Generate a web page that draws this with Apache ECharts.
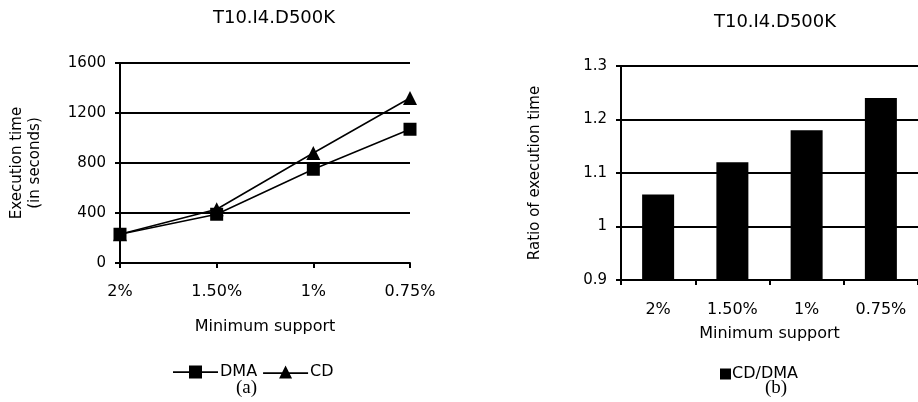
<!DOCTYPE html>
<html>
<head>
<meta charset="utf-8">
<script src="https://cdn.jsdelivr.net/npm/echarts@6/dist/echarts.min.js"></script>
<style>html,body{margin:0;padding:0;background:#fff;}#c{width:918px;height:402px;}</style>
</head>
<body>
<div id="c"></div>
<script>
// ---- data ----
var categories = ['2%', '1.50%', '1%', '0.75%'];
var dmaTime = [230, 390, 750, 1070];
var cdTime = [230, 430, 880, 1320];
var ratioCdDma = [1.06, 1.12, 1.18, 1.24];
var titleA = 'T10.I4.D500K';
var titleB = 'T10.I4.D500K';

var FONT = 'DejaVu Sans';
var chart = echarts.init(document.getElementById('c'), null, {renderer: 'canvas'});
var axisLine = {show: true, lineStyle: {color: '#000', width: 2}};
var axisTick = {show: true, length: 5, lineStyle: {color: '#000', width: 2}};
var split = {show: true, lineStyle: {color: '#000', width: 2}};
var iconSquare = 'path://M0,5.7 L45,5.7 L45,7.5 L0,7.5 Z M16,0 L29,0 L29,13 L16,13 Z';
var iconTri = 'path://M0,6.8 L45,6.8 L45,8.6 L0,8.6 Z M16,13 L22.5,0 L29,13 Z';

chart.setOption({
  backgroundColor: '#fff',
  animation: false,
  textStyle: {fontFamily: FONT, color: '#000'},
  title: [
    {text: titleA, left: 274, top: 9, padding: 0, textAlign: 'center',
     textStyle: {fontFamily: FONT, fontSize: 18, fontWeight: 'normal', color: '#000'}},
    {text: titleB, left: 775, top: 13, padding: 0, textAlign: 'center',
     textStyle: {fontFamily: FONT, fontSize: 18, fontWeight: 'normal', color: '#000'}}
  ],
  legend: [
    {data: [{name: 'DMA', icon: iconSquare}, {name: 'CD', icon: iconTri}],
     left: 173, top: 364, padding: 0, itemWidth: 45, itemHeight: 13, itemGap: 6,
     textStyle: {fontFamily: FONT, fontSize: 16, color: '#000', padding: [0, 0, 0, -3]}},
    {data: ['CD/DMA'], left: 720, top: 366, padding: 0, itemWidth: 11, itemHeight: 11, itemGap: 4, icon: 'rect',
     textStyle: {fontFamily: FONT, fontSize: 16, color: '#000', padding: [0, 0, 0, -4]}}
  ],
  grid: [
    {left: 120, top: 63, width: 290, height: 200},
    {left: 621, top: 66, width: 303, height: 214}
  ],
  xAxis: [
    {gridIndex: 0, type: 'category', data: categories, boundaryGap: false,
     axisLine: axisLine, axisTick: axisTick, splitLine: {show: false},
     axisLabel: {fontFamily: FONT, fontSize: 16, color: '#000', margin: 21},
     name: 'Minimum support', nameLocation: 'middle', nameGap: 56,
     nameTextStyle: {fontFamily: FONT, fontSize: 16, color: '#000'}},
    {gridIndex: 1, type: 'category', data: categories, boundaryGap: true,
     axisLine: axisLine, axisTick: axisTick, splitLine: {show: false},
     axisLabel: {fontFamily: FONT, fontSize: 16, color: '#000', margin: 22},
     name: 'Minimum support', nameLocation: 'middle', nameGap: 46,
     nameTextStyle: {fontFamily: FONT, fontSize: 16, color: '#000'}}
  ],
  yAxis: [
    {gridIndex: 0, type: 'value', min: 0, max: 1600, interval: 400,
     axisLine: axisLine, axisTick: axisTick, splitLine: split,
     axisLabel: {fontFamily: FONT, fontSize: 15, color: '#000', margin: 14,
       formatter: function (v) { return String(v); }},
     name: 'Execution time\n(in seconds)', nameLocation: 'middle', nameGap: 76,
     nameTextStyle: {fontFamily: FONT, fontSize: 15, color: '#000', lineHeight: 18, align: 'center'}},
    {gridIndex: 1, type: 'value', min: 0.9, max: 1.3, interval: 0.1,
     axisLine: axisLine, axisTick: axisTick, splitLine: split,
     axisLabel: {fontFamily: FONT, fontSize: 15, color: '#000', margin: 14,
       formatter: function (v) { return String(+v.toFixed(1)); }},
     name: 'Ratio of execution time', nameLocation: 'middle', nameGap: 78,
     nameTextStyle: {fontFamily: FONT, fontSize: 15, color: '#000'}}
  ],
  series: [
    {name: 'CD', type: 'line', xAxisIndex: 0, yAxisIndex: 0, data: cdTime,
     symbol: 'triangle', symbolSize: 14, lineStyle: {color: '#000', width: 1.5},
     itemStyle: {color: '#000'}},
    {name: 'DMA', type: 'line', xAxisIndex: 0, yAxisIndex: 0, data: dmaTime,
     symbol: 'rect', symbolSize: 13, lineStyle: {color: '#000', width: 1.5},
     itemStyle: {color: '#000'}},
    {name: 'CD/DMA', type: 'bar', xAxisIndex: 1, yAxisIndex: 1, data: ratioCdDma,
     barWidth: 32, itemStyle: {color: '#000'}}
  ],
  graphic: [
    {type: 'text', left: 236, top: 379, style: {text: '(a)', font: '19px "Liberation Serif"', fill: '#000'}},
    {type: 'text', left: 765, top: 379, style: {text: '(b)', font: '19px "Liberation Serif"', fill: '#000'}}
  ]
});
</script>
</body>
</html>
